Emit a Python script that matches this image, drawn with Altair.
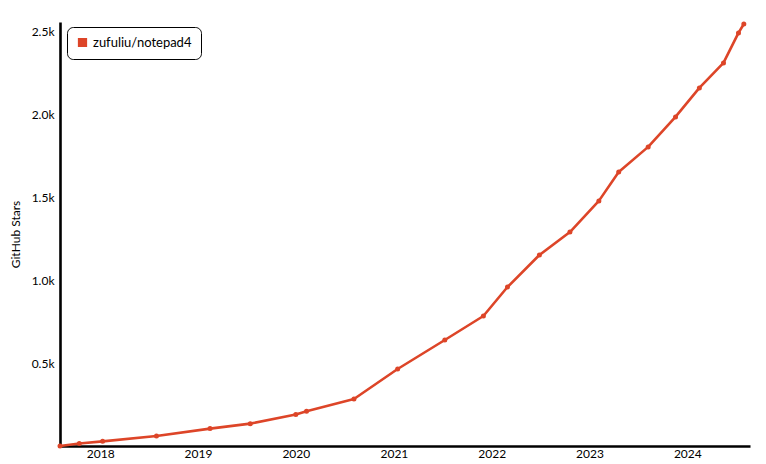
import altair as alt
import pandas as pd

dates = ["2017-08-04", "2017-10-15", "2018-01-10", "2018-07-30", "2019-02-15", "2019-07-15",
         "2020-01-01", "2020-02-10", "2020-08-05", "2021-01-15", "2021-07-10", "2021-12-01",
         "2022-03-01", "2022-06-28", "2022-10-20", "2023-02-05", "2023-04-20", "2023-08-08",
         "2023-11-18", "2024-02-15", "2024-05-15", "2024-07-10", "2024-07-30"]
stars = [0, 15, 28, 60, 105, 135, 190, 210, 284, 465, 640, 785, 960, 1153, 1292, 1480, 1655,
         1806, 1987, 2162, 2313, 2494, 2548]
repo = "zufuliu/notepad4"

df = pd.DataFrame({"date": pd.to_datetime(dates), "stars": stars, "repo": repo})

FONT = "Lato"
RED = "#dd4528"

base = alt.Chart(df).encode(
    x=alt.X("date:T", title=None,
            scale=alt.Scale(domain=["2017-08-04", "2024-08-22"]),
            axis=alt.Axis(format="%Y", tickCount={"interval": "year", "step": 1},
                          ticks=False, grid=False, labelPadding=2)),
    y=alt.Y("stars:Q", title="GitHub Stars",
            scale=alt.Scale(domain=[0, 2560], nice=False),
            axis=alt.Axis(values=[0, 500, 1000, 1500, 2000, 2500], ticks=False, grid=False,
                          labelExpr="datum.value == 0 ? '' : format(datum.value/1000, '.1f') + 'k'",
                          labelPadding=6, titlePadding=9)),
    color=alt.Color("repo:N", scale=alt.Scale(range=[RED]),
                    legend=alt.Legend(title=None, orient="none", legendX=7, legendY=5,
                                      symbolType="square", symbolSize=60,
                                      strokeColor="black", fillColor="white",
                                      cornerRadius=6, padding=9,
                                      labelFont=FONT, labelFontSize=13,
                                      labelLimit=200)),
)

line = base.mark_line(strokeWidth=2.6, strokeJoin="round", strokeCap="round")
pts = base.mark_point(filled=True, size=25, opacity=1)

chart = (line + pts).properties(
    width=690, height=424,
    autosize=alt.AutoSizeParams(type="none"),
    padding={"left": 52, "top": 14, "right": 8, "bottom": 18},
).configure_axis(
    domainColor="black", domainWidth=2.6,
    labelFont=FONT, labelFontSize=12, labelColor="black",
    titleFont=FONT, titleFontSize=12, titleColor="black", titleFontWeight="normal",
).configure_view(stroke=None)

chart.save("out.html", embed_options={"renderer": "svg", "actions": False})
